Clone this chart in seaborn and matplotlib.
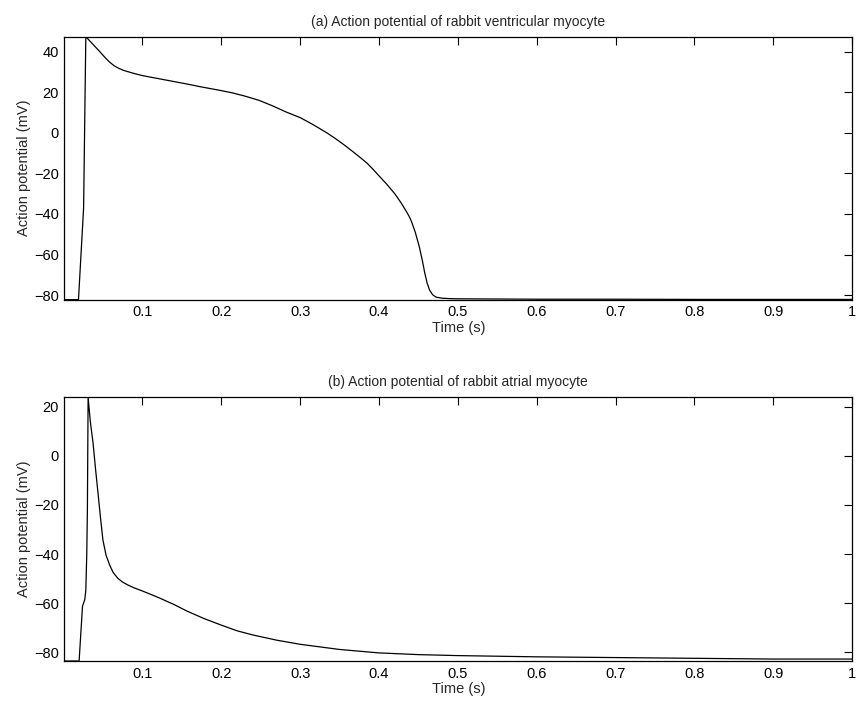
import matplotlib
matplotlib.use("Agg")
import matplotlib.pyplot as plt
import seaborn as sns
import numpy as np

# ventricular action potential
vent_time = [0.001, 0.019, 0.0255, 0.0283, 0.0333, 0.040, 0.046, 0.052, 0.058, 0.064,
             0.070, 0.076, 0.088, 0.100, 0.115, 0.130, 0.156, 0.175, 0.189, 0.200,
             0.214, 0.230, 0.248, 0.265, 0.282, 0.300, 0.312, 0.324, 0.335, 0.345,
             0.356, 0.367, 0.376, 0.385, 0.393, 0.400, 0.410, 0.420, 0.428, 0.434,
             0.438, 0.441, 0.446, 0.451, 0.455, 0.458, 0.461, 0.464, 0.468, 0.4725,
             0.480, 0.490, 0.500, 0.600, 0.700, 0.800, 0.900, 1.000]
vent_ap = [-82.2, -82.2, -37.0, 47.4, 45.3, 42.5, 40.0, 37.4, 35.0, 33.1,
           31.8, 30.8, 29.4, 28.2, 27.1, 26.0, 24.1, 22.6, 21.6, 20.8,
           19.7, 18.1, 16.0, 13.3, 10.3, 7.5, 5.0, 2.3, -0.3, -2.9,
           -6.0, -9.3, -12.1, -15.0, -18.2, -21.2, -25.4, -30.0, -34.5, -38.3,
           -41.0, -43.5, -49.0, -56.0, -63.0, -69.0, -74.0, -77.4, -79.8, -81.0,
           -81.5, -81.7, -81.8, -82.0, -82.0, -82.1, -82.1, -82.1]

# atrial action potential
atr_time = [0.001, 0.0198, 0.0241, 0.0270, 0.0283, 0.0295, 0.0303, 0.0312, 0.0340,
            0.0375, 0.0405, 0.0438, 0.047, 0.050, 0.054, 0.0586, 0.063, 0.069,
            0.075, 0.0818, 0.090, 0.100, 0.110, 0.122, 0.140, 0.156, 0.178, 0.200,
            0.220, 0.240, 0.270, 0.300, 0.350, 0.400, 0.450, 0.500, 0.600, 0.700,
            0.800, 0.900, 1.000]
atr_ap = [-83.5, -83.5, -61.2, -58.5, -54.7, -40.0, -22.0, 23.8, 14.0,
          5.1, -5.0, -15.3, -25.5, -34.3, -40.5, -44.5, -47.5, -49.9,
          -51.4, -52.6, -53.8, -55.0, -56.3, -57.9, -60.5, -63.1, -66.2, -68.9,
          -71.2, -72.9, -75.0, -76.7, -78.8, -80.2, -80.9, -81.3, -81.8, -82.1,
          -82.4, -82.7, -82.7]

x_ticks = [0.1, 0.2, 0.3, 0.4, 0.5, 0.6, 0.7, 0.8, 0.9, 1.0]
x_labels = ["0.1", "0.2", "0.3", "0.4", "0.5", "0.6", "0.7", "0.8", "0.9", "1"]

sns.set_style("white")
plt.rcParams['font.family'] = ['Liberation Sans', 'DejaVu Sans']
plt.rcParams['axes.linewidth'] = 0.9
plt.rcParams['axes.unicode_minus'] = True


def style_axis(ax, yticks, ylim, title):
    ax.set_xlim(0.001, 1.0)
    ax.set_ylim(*ylim)
    ax.set_xticks(x_ticks)
    ax.set_xticklabels(x_labels)
    ax.set_yticks(yticks)
    ax.tick_params(direction='in', length=6, width=0.8, top=True, right=True,
                   labelsize=10.5, pad=4, colors='black')
    for sp in ax.spines.values():
        sp.set_visible(True)
        sp.set_color('black')
    ax.set_title(title, fontsize=10, pad=8)
    ax.set_xlabel('Time (s)', fontsize=10.5, labelpad=1)
    ax.set_ylabel('Action potential (mV)', fontsize=10.5, labelpad=2)


fig = plt.figure(figsize=(8.56, 7.10), dpi=100)
ax1 = fig.add_axes([0.0751, 0.578, 0.9205, 0.3704])
ax2 = fig.add_axes([0.0751, 0.069, 0.9205, 0.3714])

sns.lineplot(x=vent_time, y=vent_ap, ax=ax1, color='black', linewidth=0.9)
style_axis(ax1, [-80, -60, -40, -20, 0, 20, 40], (-82.2, 47.4),
           '(a) Action potential of rabbit ventricular myocyte')

sns.lineplot(x=atr_time, y=atr_ap, ax=ax2, color='black', linewidth=0.9)
style_axis(ax2, [-80, -60, -40, -20, 0, 20], (-83.5, 23.8),
           '(b) Action potential of rabbit atrial myocyte')

fig.savefig('out.png', dpi=100)
